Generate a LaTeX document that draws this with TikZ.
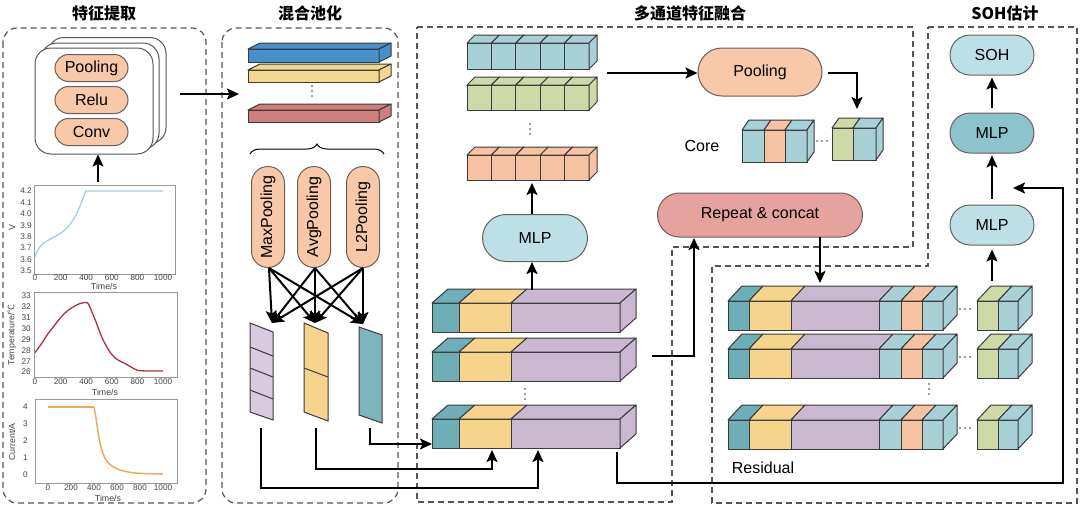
\documentclass[tikz,border=0pt]{standalone}
\usepackage{fontspec}
\setmainfont{Liberation Sans}
\newfontfamily\cjk{Noto Sans CJK SC}
\usetikzlibrary{arrows.meta,decorations.pathreplacing,shapes.misc}
\definecolor{tealL}{HTML}{A8D1D7}
\definecolor{tealD}{HTML}{6EAEB6}
\definecolor{olive}{HTML}{CDDAA8}
\definecolor{orangeL}{HTML}{F6C2A2}
\definecolor{yel}{HTML}{F6D48B}
\definecolor{purp}{HTML}{CAB8D0}
\definecolor{purpL}{HTML}{D9CADF}
\definecolor{tealP}{HTML}{7EB4BC}
\definecolor{blueb}{HTML}{4690CB}
\definecolor{yelb}{HTML}{F3D78E}
\definecolor{redb}{HTML}{CF7F7B}
\definecolor{peach}{HTML}{F8C8A8}
\definecolor{repc}{HTML}{E5A29F}
\definecolor{mlpL}{HTML}{BDE0E6}
\definecolor{mlpD}{HTML}{8DC3CB}
\definecolor{pillb}{HTML}{6B5E58}
\definecolor{edge}{HTML}{3A3A3A}
\definecolor{dashc}{HTML}{555555}
\definecolor{framec}{HTML}{999999}
\definecolor{tickc}{HTML}{444444}
\definecolor{c1}{HTML}{9CCFE0}
\definecolor{c2}{HTML}{B0303F}
\definecolor{c3}{HTML}{F0A860}
\newcommand\lab{\fontsize{16}{18}\selectfont}
\newcommand\prism[7]{%
  \filldraw[fill=#7,draw=edge,line width=1,line join=round] ({#1},{#3}) rectangle ({#2},{#4});
  \filldraw[fill=#7,draw=edge,line width=1,line join=round] ({#1},{#3}) -- ++({#5},{-(#6)}) -- ++({(#2)-(#1)},0) -- ({#2},{#3}) -- cycle;}
\newcommand\prismside[6]{%
  \filldraw[fill=#6,draw=edge,line width=1,line join=round] ({#1},{#2}) -- ++({#4},{-(#5)}) -- ++(0,{(#3)-(#2)}) -- ({#1},{#3}) -- cycle;}
\newcommand\vdts[2]{\foreach \k in {-1,0,1}{\fill[edge] ({#1},{#2+5*\k}) circle (0.9);}}
\newcommand\hdts[2]{\foreach \k in {-1,0,1}{\fill[edge] ({#1+5*\k},{#2}) circle (0.9);}}
\tikzset{
 panel/.style={draw=dashc, dash pattern=on 6pt off 4pt, line width=1.2},
 arr/.style={-{Stealth[length=12pt,width=11pt,inset=2.5pt]}, line width=2, draw=black},
 pill/.style={rounded rectangle, draw=pillb, line width=1, inner sep=0pt, font=\lab},
 stackbox/.style={draw=dashc, fill=white, rounded corners=16, line width=1, minimum width=118, minimum height=106},
 ttl/.style={font=\cjk\bfseries\fontsize{16}{18}\selectfont, inner sep=0pt},
 tlab/.style={font=\fontsize{8.2}{9}\selectfont, text=tickc, inner sep=0pt},
 alab/.style={font=\fontsize{8.8}{10}\selectfont, text=tickc, inner sep=0pt},
 frame/.style={draw=framec, line width=0.8},
}
\begin{document}
\begin{tikzpicture}[x=1pt,y=-1pt]
\useasboundingbox (0,0) rectangle (1080,509);
% titles
\node[ttl] (T1) at (104,13) {特征提取};
\node[ttl] (T2) at (310,13) {混合池化};
\node[ttl] (T3) at (690,13) {多通道特征融合};
\node[ttl] (T4) at (1005,13) {SOH估计};
% panels
\draw[panel, rounded corners=14] (3,28) rectangle (206,503);
\draw[panel, rounded corners=14] (222,28) rectangle (398,503);
\draw[panel] (417,27) -- (913,27) -- (913,247) -- (672,247) -- (672,502) -- (417,502) -- cycle;
\draw[panel] (928,27) -- (1077,27) -- (1077,503) -- (712,503) -- (712,266) -- (928,266) -- cycle;
% feature extraction
\node[stackbox] (L3) at (107,90.5) {};
\node[stackbox] (L2) at (100,96) {};
\node[stackbox] (L1) at (94,101) {};
\node[pill, fill=peach, minimum width=73, minimum height=27] (pl1) at (91.5,68) {Pooling};
\node[pill, fill=peach, minimum width=73, minimum height=27] (relu) at (91.5,100) {Relu};
\node[pill, fill=peach, minimum width=73, minimum height=27] (conv) at (91.5,132) {Conv};
% chart 1
\draw[frame] (34,185) rectangle (175,274);
\foreach \t in {0,200,400,600,800,1000} \node[tlab] at ({35+0.128*\t},278) {\t};
\foreach \v in {3.5,3.6,3.7,3.8,3.9,4.0,4.1,4.2} \node[tlab, anchor=east] at (32,{271-114.3*(\v-3.5)}) {\v};
\node[alab] at (104,286) {Time/s};
\node[alab, rotate=90] at (12,228) {V};
\draw[c1, line width=1.3] plot[smooth] coordinates {(35,257.3) (37.6,250.4) (42.7,243.6) (50.4,239) (60.6,233.3) (68.3,226.4) (76,215) (82.4,200.1) (85.6,191)} -- (163,191);
% chart 2
\draw[frame] (34,292) rectangle (177,377);
\foreach \t in {0,200,400,600,800,1000} \node[tlab] at ({35+0.128*\t},382) {\t};
\foreach \c in {26,27,28,29,30,31,32,33} \node[tlab, anchor=east] at (31,{372-10.86*(\c-26)}) {\c};
\node[alab] at (105,392) {Time/s};
\node[alab, rotate=90] at (12,335) {Temperature/{\cjk ℃}};
\draw[c2, line width=1.3] plot[smooth] coordinates {(35,352.5) (41.4,343.8) (47.8,334) (60.6,317.7) (67,311.2) (73.4,306.8) (79.8,303.6) (86.2,302.5) (88.8,304.7) (95.2,319.9) (102.8,339.4) (111.8,354.6) (118.2,360.1) (124.6,363.3) (137.4,370.4) (143.8,370.9) (163,370.9)};
% chart 3
\draw[frame] (35,399) rectangle (177,483);
\foreach \t in {0,200,400,600,800,1000} \node[tlab] at ({48+0.115*\t},488) {\t};
\foreach \a in {0,1,2,3,4} \node[tlab, anchor=east] at (28,{475-17*\a}) {\a};
\node[alab] at (108,498) {Time/s};
\node[alab, rotate=90] at (12,442) {Current/A};
\draw[c3, line width=1.5] (48,407) -- (94,407);
\draw[c3, line width=1.5] plot[smooth] coordinates {(94,407) (96,418) (98.5,435) (101.5,449) (106,460) (112,466) (120,470) (135,473) (163,474)};
% arrows feature extraction
\coordinate (c1top) at (98,182);
\draw[arr] (c1top) -- (c1top |- L1.south);
\coordinate (fe) at (180,94);
\coordinate (hp) at (239,94);
\draw[arr] (fe) -- (hp);
% hybrid pooling bars
\prism{248}{379}{49}{62}{12}{6}{blueb}
\prismside{379}{49}{62}{12}{6}{blueb}
\prism{248}{379}{70}{82}{12}{6}{yelb}
\prismside{379}{70}{82}{12}{6}{yelb}
\vdts{312}{91}
\prism{248}{379}{110}{122}{12}{6}{redb}
\prismside{379}{110}{122}{12}{6}{redb}
\draw[line width=1, decorate, decoration={brace, amplitude=10pt}] (250,154) -- (384,154);
\node[pill, fill=peach, rotate=90, minimum width=101, minimum height=33] (maxp) at (268,217) {MaxPooling};
\node[pill, fill=peach, rotate=90, minimum width=101, minimum height=33] (avgp) at (314,217) {AvgPooling};
\node[pill, fill=peach, rotate=90, minimum width=101, minimum height=33] (l2p) at (363,217) {L2Pooling};
\coordinate (s1) at (269,268);
\coordinate (s2) at (315,268);
\coordinate (s3) at (363,268);
\coordinate (d1) at (272,323);
\coordinate (d2) at (315,323);
\coordinate (d3) at (363,324);
\foreach \s in {s1,s2,s3} \foreach \d in {d1,d2,d3} \draw[arr] (\s) -- (\d);
\filldraw[fill=purpL, draw=edge, line width=1] (250,323) -- (273,332) -- (273,420) -- (250,412) -- cycle;
\draw[edge, line width=1] (250,347) -- (273,356) (250,368) -- (273,377) (250,390) -- (273,399);
\filldraw[fill=yel, draw=edge, line width=1] (304,323) -- (328,333) -- (328,421) -- (304,412) -- cycle;
\draw[edge, line width=1] (304,368) -- (328,377);
\filldraw[fill=tealP, draw=edge, line width=1] (359,327) -- (382,335) -- (382,423) -- (359,415) -- cycle;
\coordinate (pb) at (261,428);
\coordinate (yb) at (316,428);
\coordinate (tb) at (370,428);
\coordinate (cin) at (432,444);
\coordinate (cy) at (492,450);
\coordinate (cp) at (538,450);
\draw[arr] (tb) |- (cin);
\draw[arr] (yb) -- ++(0,41) -| (cy);
\draw[arr] (pb) -- ++(0,60) -| (cp);
% multichannel cube rows
\foreach \i [evaluate=\i as \xa using 467+\i*24.4, evaluate=\i as \xb using 467+(\i+1)*24.4] in {0,...,4} {\prism{\xa}{\xb}{43}{69}{8}{8}{tealL}}
\prismside{589}{43}{69}{8}{8}{tealL}
\foreach \i [evaluate=\i as \xa using 467+\i*24.4, evaluate=\i as \xb using 467+(\i+1)*24.4] in {0,...,4} {\prism{\xa}{\xb}{85}{110}{8}{8}{olive}}
\prismside{589}{85}{110}{8}{8}{olive}
\vdts{530}{129}
\foreach \i [evaluate=\i as \xa using 467+\i*24.4, evaluate=\i as \xb using 467+(\i+1)*24.4] in {0,...,4} {\prism{\xa}{\xb}{155}{180}{8}{8}{orangeL}}
\prismside{589}{155}{180}{8}{8}{orangeL}
% MLP and stacks
\node[pill, fill=mlpL, minimum width=105, minimum height=47] (mlpa) at (535,238) {MLP};
\foreach \yt in {303,352,419} {
  \prism{432}{459}{\yt}{\yt+29}{16}{14}{tealD}
  \prism{459}{511}{\yt}{\yt+29}{16}{14}{yel}
  \prism{511}{620}{\yt}{\yt+29}{16}{14}{purp}
  \prismside{620}{\yt}{\yt+29}{16}{14}{purp}
}
\vdts{525}{394}
\coordinate (r3b) at (532,183);
\coordinate (sAt) at (532,290);
\draw[arr] (mlpa.north -| r3b) -- (r3b);
\draw[arr] (sAt) -- (sAt |- mlpa.south);
% pooling / core
\node[pill, fill=peach, minimum width=124, minimum height=48] (pool2) at (760,72) {Pooling};
\coordinate (rowsR) at (607,73);
\draw[arr] (rowsR) -- (rowsR -| pool2.west);
\coordinate (poolR) at (828,73);
\coordinate (coreT) at (857,109);
\draw[arr] (poolR) -| (coreT);
\node[font=\lab] (core) at (702,146) {Core};
\prism{742}{764}{130}{162}{7}{10}{tealL}
\prism{764}{785}{130}{162}{7}{10}{orangeL}
\prism{785}{807}{130}{162}{7}{10}{tealL}
\prismside{807}{130}{162}{7}{10}{tealL}
\hdts{822}{141}
\prism{832}{853}{128}{160}{7}{10}{olive}
\prism{853}{876}{128}{160}{7}{10}{tealL}
\prismside{876}{128}{160}{7}{10}{tealL}
\node[pill, fill=repc, minimum width=205, minimum height=44] (rep) at (760,215) {Repeat \& concat};
\coordinate (bBR) at (652,356);
\coordinate (repin) at (694,238);
\draw[arr] (bBR) -| (repin);
\coordinate (repout) at (820,237);
\coordinate (resin) at (820,283);
\draw[arr] (repout) -- (resin);
% residual rows
\foreach \yt in {301,349,420} {
  \prism{728}{749}{\yt}{\yt+29}{14}{15}{tealD}
  \prism{749}{791}{\yt}{\yt+29}{14}{15}{yel}
  \prism{791}{879}{\yt}{\yt+29}{14}{15}{purp}
  \prism{879}{901}{\yt}{\yt+29}{14}{15}{tealL}
  \prism{901}{922}{\yt}{\yt+29}{14}{15}{orangeL}
  \prism{922}{943}{\yt}{\yt+29}{14}{15}{tealL}
  \prismside{943}{\yt}{\yt+29}{14}{15}{tealL}
  \hdts{965}{\yt+8}
  \prism{977}{998}{\yt}{\yt+29}{14}{15}{olive}
  \prism{998}{1018}{\yt}{\yt+29}{14}{15}{tealL}
  \prismside{1018}{\yt}{\yt+29}{14}{15}{tealL}
}
\vdts{929}{389}
\node[font=\lab] (resl) at (763,468) {Residual};
% SOH
\node[pill, fill=mlpL, minimum width=84, minimum height=40] (mlpb) at (992,225) {MLP};
\node[pill, fill=mlpD, minimum width=84, minimum height=40] (mlpc) at (992,133) {MLP};
\node[pill, fill=mlpL, minimum width=84, minimum height=40] (soh) at (992,55) {SOH};
\draw[arr, shorten <=6pt, shorten >=2pt] (mlpb.north) -- (mlpc.south);
\draw[arr, shorten <=5pt, shorten >=2pt] (mlpc.north) -- (soh.south);
\coordinate (pairT) at (992,281);
\draw[arr, shorten >=4pt] (pairT) -- (pairT |- mlpb.south);
\coordinate (cbr) at (617,452);
\coordinate (rright) at (1063,483);
\coordinate (mlpin) at (1013,188);
\draw[arr] (cbr) |- (rright) |- (mlpin);
\end{tikzpicture}
\end{document}
